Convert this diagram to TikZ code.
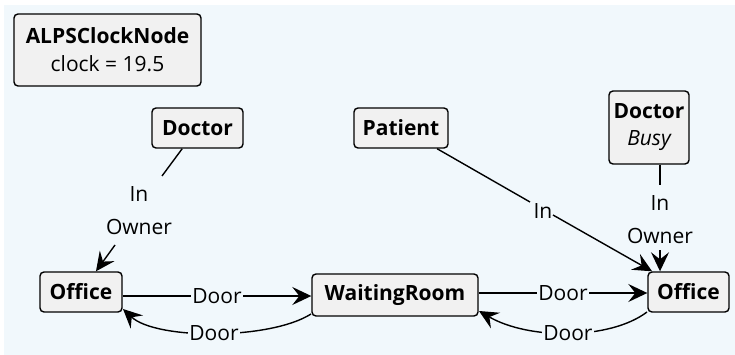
\documentclass[tikz,border=0pt]{standalone}
\usepackage{fontspec}
\setmainfont{Open Sans}
\usetikzlibrary{arrows.meta}
\definecolor{bg}{HTML}{F1F8FC}
\definecolor{boxfill}{HTML}{F1F1F1}
\tikzset{
 box/.style={draw=black, fill=boxfill, rounded corners=4pt, line width=1.4pt, inner sep=0pt, align=center, font=\fontsize{21}{26}\selectfont\bfseries},
 lbl/.style={font=\fontsize{21}{26}\selectfont, inner sep=1pt},
 edge/.style={line width=1.4pt},
 arr/.style={edge, -{Stealth[length=19pt,width=18pt,inset=7pt]}}
}
\begin{document}
\begin{tikzpicture}[x=1pt,y=-1pt]
\useasboundingbox (0,0) rectangle (735,355);
\fill[bg] (4,5) rectangle (735,355);
% nodes
\node[box, minimum width=187pt, minimum height=72pt] (clock) at (107.5,50) {ALPSClockNode\\[2pt]{\mdseries clock = 19.5}};
\node[box, minimum width=91pt, minimum height=40pt] (docL) at (197.5,128) {Doctor};
\node[box, minimum width=94pt, minimum height=40pt] (pat) at (401,128) {Patient};
\node[box, minimum width=80pt, minimum height=73pt] (docB) at (649,127.5) {Doctor\\[1pt]{\mdseries\itshape Busy}};
\node[box, minimum width=82pt, minimum height=40pt] (offL) at (81,292) {Office};
\node[box, minimum width=166pt, minimum height=42pt] (wait) at (395,295) {WaitingRoom};
\node[box, minimum width=81pt, minimum height=40pt] (offR) at (688.5,292) {Office};
% Doctor -> Office (left)
\coordinate (a1) at (162,176);
\coordinate (a2) at (115,245);
\node[lbl] (aIn) at (139,194) {In};
\node[lbl] (aOwn) at (139,227) {Owner};
\draw[edge] (docL) -- (a1);
\draw[arr] (a2) -- (offL);
% Patient -> Office (right)
\coordinate (p1) at (530,202);
\coordinate (p2) at (553,215);
\node[lbl] (pIn) at (543,211) {In};
\draw[edge] (pat) -- (p1);
\draw[arr] (p2) -- (offR);
% Doctor Busy -> Office (right)
\coordinate (b1) at (660,185);
\coordinate (b2) at (660,250);
\node[lbl] (bIn) at (660,203) {In};
\node[lbl] (bOwn) at (660,236) {Owner};
\draw[edge] (docB.south -| b1) -- (b1);
\draw[arr] (b2) -- (offR.north -| b2);
% Doors
\draw[arr] (offL.east |- 0,296) -- node[lbl, fill=bg] {Door} (wait.west |- 0,296);
\draw[arr] (wait.east |- 0,293) -- node[lbl, fill=bg] {Door} (offR.west |- 0,293);
\coordinate (cR0) at (647,312);
\coordinate (cR1) at (479,311);
\draw[arr] (cR0) .. controls (610,340) and (529,340) .. node[lbl, fill=bg, pos=0.5] {Door} (cR1);
\coordinate (cL0) at (311,314);
\coordinate (cL1) at (123,309);
\draw[arr] (cL0) .. controls (270,340) and (156,340) .. node[lbl, fill=bg, pos=0.5] {Door} (cL1);
\end{tikzpicture}
\end{document}
